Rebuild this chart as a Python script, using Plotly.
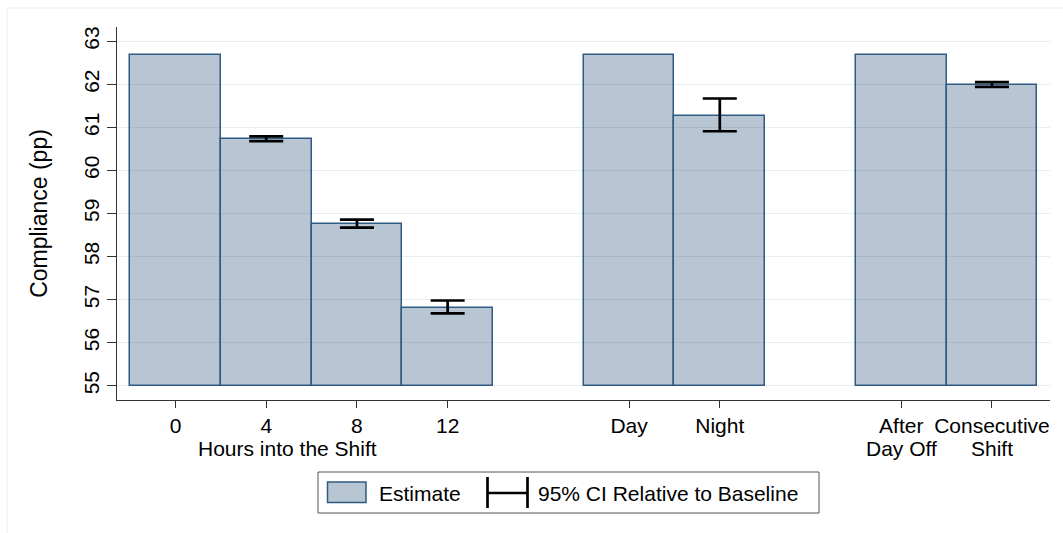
import numpy as np
import plotly.graph_objects as go

# ---- data ----
positions = [0, 1, 2, 3, 5, 6, 8, 9]
tick_labels = ["0", "4", "8", "12", "Day", "Night", "After", "Consecutive"]
tick_labels_line2 = ["", "", "", "", "", "", "Day Off", "Shift"]
group_label = "Hours into the Shift"
estimates = [62.69, 60.72, 58.76, 56.81, 62.69, 61.27, 62.69, 61.98]
ci_low = [None, 60.68, 58.67, 56.68, None, 60.91, None, 61.94]
ci_high = [None, 60.79, 58.86, 56.98, None, 61.67, None, 62.05]
baseline = 55
y_ticks = [55, 56, 57, 58, 59, 60, 61, 62, 63]

FONT = "Liberation Sans, Arial, Helvetica, sans-serif"
TICK_SIZE = 21
est = np.array(estimates)

fig = go.Figure()
fig.add_trace(go.Bar(
    x=positions, y=est - baseline, base=baseline, width=1.0,
    marker=dict(color="rgba(38,80,120,0.33)", line=dict(color="#2f5a83", width=1.5)),
    showlegend=False, hoverinfo="skip",
))

ci_x, ci_mid, ci_plus, ci_minus = [], [], [], []
for p, lo, hi in zip(positions, ci_low, ci_high):
    if lo is None:
        continue
    mid = (lo + hi) / 2
    ci_x.append(p)
    ci_mid.append(mid)
    ci_plus.append(hi - mid)
    ci_minus.append(mid - lo)

fig.add_trace(go.Scatter(
    x=ci_x, y=ci_mid, mode="markers",
    marker=dict(size=0.1, color="rgba(0,0,0,0)"),
    error_y=dict(type="data", symmetric=False, array=ci_plus, arrayminus=ci_minus,
                 color="black", thickness=2.7, width=17),
    showlegend=False, hoverinfo="skip",
))

# px -> paper helpers for legend decoration
L, R, T, B = 117, 1050, 27, 400
def px(x):
    return (x - L) / (R - L)
def py(y):
    return (B - y) / (B - T)

shapes = [
    # outer faint frame
    dict(type="rect", xref="paper", yref="paper", x0=px(7), x1=px(1070), y0=py(8), y1=py(545),
         line=dict(color="#eeeeee", width=1), layer="below"),
    # legend box
    dict(type="rect", xref="paper", yref="paper", x0=px(318), x1=px(819), y0=py(472), y1=py(513),
         line=dict(color="#555555", width=1)),
    # legend swatch
    dict(type="rect", xref="paper", yref="paper", x0=px(327.5), x1=px(366), y0=py(482), y1=py(502.5),
         fillcolor="rgba(38,80,120,0.33)", line=dict(color="#2f5a83", width=1.5)),
    # legend CI symbol
    dict(type="line", xref="paper", yref="paper", x0=px(487.5), x1=px(487.5), y0=py(477), y1=py(508),
         line=dict(color="black", width=2.7)),
    dict(type="line", xref="paper", yref="paper", x0=px(527.5), x1=px(527.5), y0=py(477), y1=py(508),
         line=dict(color="black", width=2.7)),
    dict(type="line", xref="paper", yref="paper", x0=px(487.5), x1=px(527.5), y0=py(493), y1=py(493),
         line=dict(color="black", width=2.7)),
]

annotations = [
    dict(text=group_label, xref="x", yref="paper", x=(287 - 175.5) / 90.7, y=py(448),
         showarrow=False, font=dict(family=FONT, size=TICK_SIZE, color="black"),
         xanchor="center", yanchor="middle"),
    dict(text="Estimate", xref="paper", yref="paper", x=px(377), y=py(493),
         showarrow=False, font=dict(family=FONT, size=21, color="black"), xanchor="left", yanchor="middle"),
    dict(text="95% CI Relative to Baseline", xref="paper", yref="paper", x=px(536), y=py(493),
         showarrow=False, font=dict(family=FONT, size=21, color="black"), xanchor="left", yanchor="middle"),
]
for p, t2 in zip(positions, tick_labels_line2):
    if t2:
        annotations.append(dict(text=t2, xref="x", yref="paper", x=p, y=py(448),
                                showarrow=False, font=dict(family=FONT, size=TICK_SIZE, color="black"),
                                xanchor="center", yanchor="middle"))

fig.update_layout(
    width=1063, height=533,
    margin=dict(l=L, r=1063 - R, t=T, b=533 - B),
    paper_bgcolor="white", plot_bgcolor="white",
    font=dict(family=FONT, size=TICK_SIZE, color="black"),
    bargap=0,
    shapes=shapes, annotations=annotations,
    xaxis=dict(
        range=[-0.645, 9.64], tickmode="array", tickvals=positions, ticktext=tick_labels,
        showgrid=False, zeroline=False, showline=True, linecolor="#333333", linewidth=1.2,
        ticks="outside", ticklen=7, tickcolor="#333333", tickwidth=1.2,
        tickfont=dict(family=FONT, size=TICK_SIZE, color="black"),
    ),
    yaxis=dict(
        range=[54.67, 63.33], tickmode="array", tickvals=y_ticks,
        showgrid=True, gridcolor="#e6eef1", gridwidth=1, zeroline=False,
        showline=True, linecolor="#333333", linewidth=1.2,
        ticks="outside", ticklen=9, tickcolor="#333333", tickwidth=1.2,
        tickangle=-90,
        tickfont=dict(family=FONT, size=TICK_SIZE, color="black"),
        title=dict(text="Compliance (pp)", font=dict(family=FONT, size=23, color="black"), standoff=25),
    ),
)

fig.write_html("out.html")
